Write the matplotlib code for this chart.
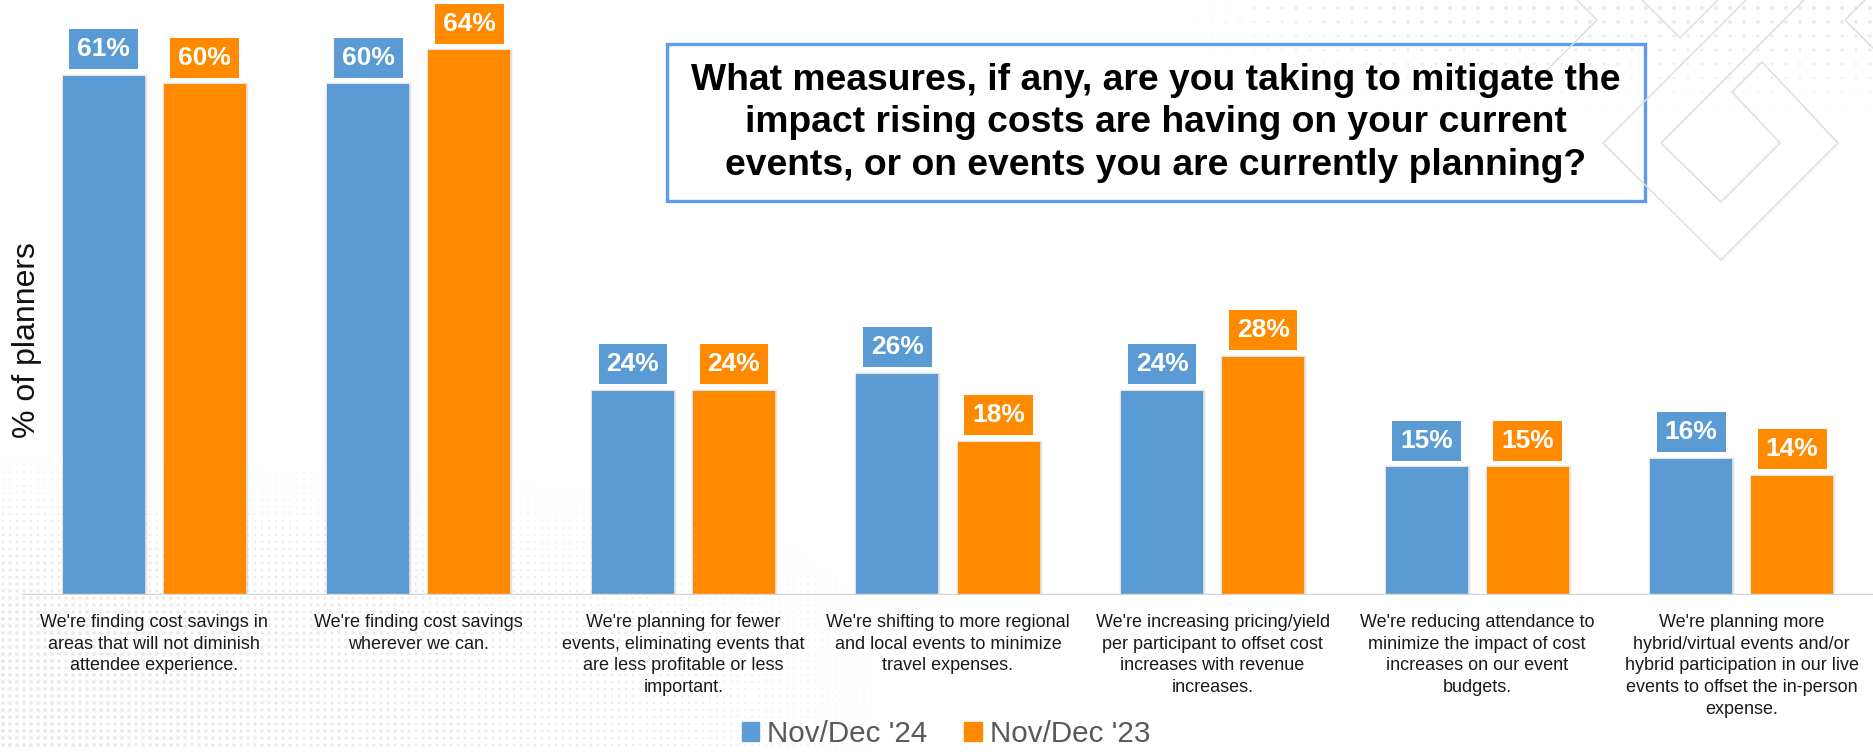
import numpy as np
import matplotlib
matplotlib.use('Agg')
import matplotlib.pyplot as plt
import matplotlib.patheffects as pe
from matplotlib.patches import Rectangle, Patch

plt.rcParams['font.family'] = ['Liberation Sans', 'DejaVu Sans']

# survey answers, one per group of bars
categories = [
    "We're finding cost savings in\nareas that will not diminish\nattendee experience.",
    "We're finding cost savings\nwherever we can.",
    "We're planning for fewer\nevents, eliminating events that\nare less profitable or less\nimportant.",
    "We're shifting to more regional\nand local events to minimize\ntravel expenses.",
    "We're increasing pricing/yield\nper participant to offset cost\nincreases with revenue\nincreases.",
    "We're reducing attendance to\nminimize the impact of cost\nincreases on our event\nbudgets.",
    "We're planning more\nhybrid/virtual events and/or\nhybrid participation in our live\nevents to offset the in-person\nexpense.",
]
nov_dec_24 = [61, 60, 24, 26, 24, 15, 16]
nov_dec_23 = [60, 64, 24, 18, 28, 15, 14]
series_names = ["Nov/Dec '24", "Nov/Dec '23"]

question = ("What measures, if any, are you taking to mitigate the\n"
            "impact rising costs are having on your current\n"
            "events, or on events you are currently planning?")

BLUE = '#5B9BD5'
ORANGE = '#FF8A00'

W, H = 1874, 752
fig = plt.figure(figsize=(W / 100, H / 100), dpi=100)

# ---- background layer, works in pixel units ----
bg = fig.add_axes([0, 0, 1, 1], zorder=0)
bg.set_xlim(0, W)
bg.set_ylim(H, 0)
bg.axis('off')

# dotted texture fading out from the bottom left corner
gx, gy = np.meshgrid(np.arange(3, 960, 7), np.arange(402, H, 7))
fade = np.sqrt(np.clip(1 - gx / 930, 0, 1)) * np.clip((gy - 400) / 220, 0, 1)
dia = 4.0 * fade
keep = dia > 1.0
bg.scatter(gx[keep], gy[keep], s=(dia[keep] * 0.72) ** 2, color='#ebebeb', lw=0)

# dotted texture along the top right
gx, gy = np.meshgrid(np.arange(1100, W, 14), np.arange(8, 150, 14))
fade = np.clip(1 - gy / 140, 0, 1) * np.clip((gx - 1100) / 300, 0, 1)
dia = 4.6 * fade
keep = dia > 1.0
bg.scatter(gx[keep], gy[keep], s=(dia[keep] * 0.72) ** 2, color='#ebebeb', lw=0)

# faint diamond logo outlines
logo_lines = [
    [(1746, 0), (1603, 143), (1721, 260), (1838, 143), (1762, 62), (1732, 92),
     (1780, 143), (1721, 202), (1661, 143), (1804, 0)],
    [(1642, 0), (1680, 38), (1718, 0)],
    [(1577, 0), (1597, 20), (1545, 72)],
    [(1865, 0), (1845, 20), (1874, 49)],
]
for pts in logo_lines:
    px, py = zip(*pts)
    bg.plot(px, py, color='#dedede', lw=1.1, solid_joinstyle='round')

# question box
bg.add_patch(Rectangle((667, 44), 978, 157, fill=False, ec='#5F9BEC', lw=2.4))
bg.text(1156, 123, question, ha='center', va='center', fontsize=26.8,
        fontweight='bold', linespacing=1.28, color='black')

# ---- bar chart ----
ax = fig.add_axes([22 / W, 157 / H, 1852 / W, 595 / H], zorder=1)
ax.patch.set_alpha(0)

x = np.arange(len(categories))
off = 0.191
bw = 0.31
shadow = [pe.Stroke(linewidth=2.5, foreground='#a8a8a8', alpha=0.3), pe.Normal()]

ax.bar(x - off, nov_dec_24, bw, color=BLUE, lw=0, path_effects=shadow, zorder=2)
ax.bar(x + off, nov_dec_23, bw, color=ORANGE, lw=0, path_effects=shadow, zorder=2)
ax.axhline(0, color='#d4d4d4', lw=2.5, zorder=3)

for xs, vals, col in [(x - off, nov_dec_24, BLUE), (x + off, nov_dec_23, ORANGE)]:
    for xi, v in zip(xs, vals):
        ax.annotate(f'{v}%', (xi, v), xytext=(0, 10.5), textcoords='offset points',
                    ha='center', va='bottom', fontsize=19, fontweight='bold',
                    color='white', zorder=4,
                    bbox=dict(boxstyle='square,pad=0.3', fc=col, ec='none'))

ax.set_xticks(x, categories, fontsize=13, color='#1a1a1a', linespacing=1.37)
ax.tick_params(axis='x', length=0, pad=13.5)
ax.set_yticks([])
for s in ax.spines.values():
    s.set_visible(False)
ax.set_xlim(-0.5, 6.5)
ax.set_ylim(0, 595 / 8.51)

fig.text(27 / W, 1 - 340 / H, '% of planners', rotation=90, ha='center',
         va='center', fontsize=23, color='#111111')

handles = [Patch(color=BLUE), Patch(color=ORANGE)]
fig.legend(handles, series_names, loc='center', bbox_to_anchor=(946 / W, 1 - 734 / H),
           ncol=2, frameon=False, fontsize=21.3, labelcolor='#595959',
           handlelength=0.58, handleheight=0.58, handletextpad=0.27,
           columnspacing=1.25, borderpad=0, borderaxespad=0)

fig.savefig('out.png', dpi=100)
